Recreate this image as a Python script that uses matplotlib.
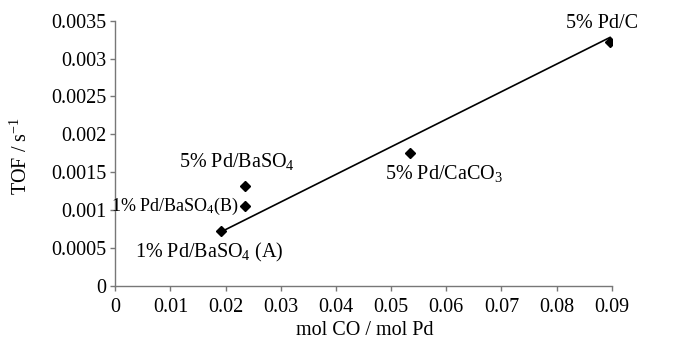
import matplotlib
matplotlib.use("Agg")
import matplotlib.pyplot as plt

# data
catalysts = [r"1% Pd/BaSO$_4$ (A)", r"5% Pd/BaSO$_4$", r"1% Pd/BaSO$_4$(B)",
             r"5% Pd/CaCO$_3$", "5% Pd/C"]
mol_co = [0.0191, 0.0235, 0.0235, 0.0534, 0.0897]
tof = [0.00073, 0.00132, 0.00106, 0.00175, 0.00322]

# trend line end points
trend_x = [0.0196, 0.0897]
trend_y = [0.00073, 0.00328]

xticks = [0, 0.01, 0.02, 0.03, 0.04, 0.05, 0.06, 0.07, 0.08, 0.09]
xticklabels = ["0", "0.01", "0.02", "0.03", "0.04", "0.05", "0.06", "0.07", "0.08", "0.09"]
yticks = [0, 0.0005, 0.001, 0.0015, 0.002, 0.0025, 0.003, 0.0035]
yticklabels = ["0", "0.0005", "0.001", "0.0015", "0.002", "0.0025", "0.003", "0.0035"]

plt.rcParams['font.family'] = ['Liberation Serif', 'DejaVu Serif']
plt.rcParams['mathtext.fontset'] = 'custom'
plt.rcParams['mathtext.rm'] = 'Liberation Serif'
plt.rcParams['mathtext.it'] = 'Liberation Serif:italic'
plt.rcParams['mathtext.bf'] = 'Liberation Serif:bold'

fs = 14.5

fig = plt.figure(figsize=(6.76, 3.41), dpi=100)
ax = fig.add_axes([0.1706, 0.1613, 0.7343, 0.778])

ax.plot(trend_x, trend_y, color='black', linewidth=1.2, zorder=2)
ax.plot(mol_co, tof, linestyle='none', marker='D', markersize=5.5,
        color='black', zorder=3)

# label offsets in pixels (dx, dy, ha, size)
offsets = [(-11, -22, 'center', fs), (-8, 24, 'center', fs), (-6, -1, 'right', 13),
           (34, -20, 'center', fs), (-8, 18, 'center', fs)]
for name, x, y, (dx, dy, ha, size) in zip(catalysts, mol_co, tof, offsets):
    ax.annotate(name, (x, y), xytext=(dx, dy), textcoords='offset pixels',
                ha=ha, va='center', fontsize=size)

ax.set_xlim(0, 0.09)
ax.set_ylim(0, 0.0035)
ax.set_xticks(xticks)
ax.set_xticklabels(xticklabels)
ax.set_yticks(yticks)
ax.set_yticklabels(yticklabels)

for s in ['top', 'right']:
    ax.spines[s].set_visible(False)
for s in ['left', 'bottom']:
    ax.spines[s].set_color('#777777')
    ax.spines[s].set_linewidth(1.0)

ax.tick_params(axis='both', direction='out', length=3.6, width=1.0,
               color='#777777', labelsize=fs)
ax.tick_params(axis='x', pad=5)
ax.tick_params(axis='y', pad=3)

fig.text(0.54, 0.004, "mol CO / mol Pd", ha='center', va='bottom', fontsize=fs)
fig.text(0.031, 0.543, r"TOF / s$^{-1}$", ha='center', va='center',
         rotation=90, fontsize=fs)

fig.savefig("out.png", dpi=100)
